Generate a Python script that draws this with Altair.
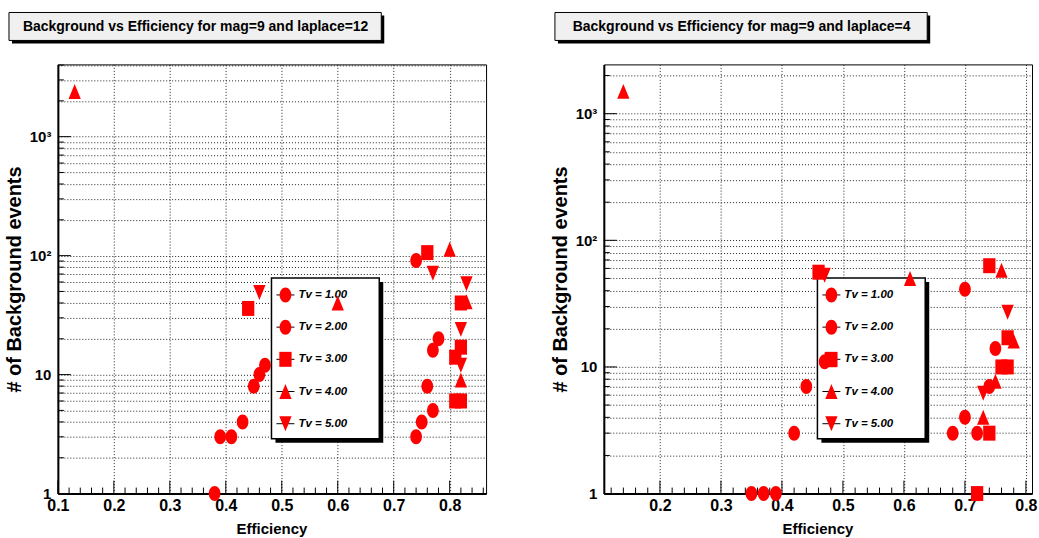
import altair as alt
import pandas as pd
import numpy as np

FONT = "Liberation Sans, Arial, sans-serif"
RED = "#ff0000"

tv_labels = ["Tv = 1.00", "Tv = 2.00", "Tv = 3.00", "Tv = 4.00", "Tv = 5.00"]

# ---- Panel A: mag=9, laplace=12 ----
a_tv1_eff = [0.38, 0.39, 0.41, 0.43, 0.45, 0.46, 0.47]
a_tv1_bkg = [1, 3, 3, 4, 8, 10, 12]
a_tv2_eff = [0.74, 0.74, 0.75, 0.76, 0.77, 0.77, 0.78]
a_tv2_bkg = [91, 3, 4, 8, 5, 16, 20]
a_tv3_eff = [0.44, 0.76, 0.82, 0.81, 0.82, 0.81, 0.82]
a_tv3_bkg = [36, 106, 40, 14, 17, 6, 6]
a_tv4_eff = [0.13, 0.60, 0.80, 0.83, 0.82]
a_tv4_bkg = [2400, 40, 113, 41, 9]
a_tv5_eff = [0.46, 0.77, 0.83, 0.82, 0.82]
a_tv5_bkg = [49, 71, 58, 24, 12]

# ---- Panel B: mag=9, laplace=4 ----
b_tv1_eff = [0.35, 0.37, 0.39, 0.42, 0.44, 0.47]
b_tv1_bkg = [1, 1, 1, 3, 7, 11]
b_tv2_eff = [0.68, 0.70, 0.70, 0.72, 0.74, 0.75]
b_tv2_bkg = [3, 4, 41, 3, 7, 14]
b_tv3_eff = [0.46, 0.48, 0.72, 0.74, 0.74, 0.76, 0.77, 0.77]
b_tv3_bkg = [56, 11.4, 1, 3, 63, 10, 10, 17]
b_tv4_eff = [0.14, 0.61, 0.76, 0.78, 0.75, 0.73]
b_tv4_bkg = [1500, 50, 58, 16, 7.7, 4]
b_tv5_eff = [0.47, 0.77, 0.73]
b_tv5_bkg = [53, 27, 6.2]

a_title = "Background vs Efficiency for mag=9 and laplace=12"
b_title = "Background vs Efficiency for mag=9 and laplace=4"

a_xdomain = [0.1, 0.865]
b_xdomain = [0.108, 0.81]
a_ydomain = [1, 4050]
b_ydomain = [1, 2450]

# marker shapes (ROOT markers, slightly taller than wide)
ELLIPSE = "M-0.78,0A0.78,1,0,1,1,0.78,0A0.78,1,0,1,1,-0.78,0Z"
SQUARE = "M-0.82,-1H0.82V1H-0.82Z"
TRI_UP = "M0,-1L0.82,1L-0.82,1Z"
TRI_DN = "M-0.82,-1L0.82,-1L0,1Z"
shape_scale = alt.Scale(domain=tv_labels, range=[ELLIPSE, ELLIPSE, SQUARE, TRI_UP, TRI_DN])

W, H = 429, 430


def make_df(effs, bkgs):
    rows = []
    for lab, e, b in zip(tv_labels, effs, bkgs):
        for x, y in zip(e, b):
            rows.append({"tv": lab, "eff": x, "bkg": y})
    return pd.DataFrame(rows)


def log_ticks(ymax):
    major, minor = [], []
    d = 1
    while d <= ymax:
        for m in range(1, 10):
            v = m * d
            if v <= ymax:
                (major if m == 1 else minor).append(v)
        d *= 10
    return major, minor


def panel(df, title, xdom, ydom, bound_x):
    xs = alt.Scale(domain=xdom, nice=False, zero=False)
    ys = alt.Scale(type="log", domain=ydom, nice=False)
    ymaj, ymin = log_ticks(ydom[1])
    xmaj = [round(v, 2) for v in np.arange(0.1, 0.81, 0.1) if v >= xdom[0] - 1e-9]
    xmin = [round(v, 2) for v in np.arange(0.1, xdom[1], 0.02)
            if v >= xdom[0] and abs(round(v * 10) - v * 10) > 1e-6]

    xaxis = alt.Axis(values=xmaj, format=".1f", grid=True, ticks=False,
                     title="Efficiency", titleX=214, titleY=40, titleBaseline="alphabetic",
                     titleAnchor="middle", titleAlign="center")
    yaxis = alt.Axis(values=ymaj + ymin, grid=True, ticks=False,
                     labelExpr="datum.value == 1 ? '1' : datum.value == 10 ? '10' : datum.value == 100 ? '10\u00b2' : datum.value == 1000 ? '10\u00b3' : ''",
                     title="# of Background events", titleX=-43, titleY=215, titleAngle=270,
                     titleAlign="center", titleBaseline="middle", titleFontSize=20)

    X = lambda f: alt.X(f, type="quantitative", scale=xs, axis=xaxis)
    Y = lambda f: alt.Y(f, type="quantitative", scale=ys, axis=yaxis)

    xt_major = alt.Chart(pd.DataFrame({"v": xmaj})).mark_rule(color="black", strokeWidth=1).encode(
        x=X("v"), y=alt.value(H), y2=alt.value(H - 13))
    xt_minor = alt.Chart(pd.DataFrame({"v": xmin})).mark_rule(color="black", strokeWidth=1).encode(
        x=X("v"), y=alt.value(H), y2=alt.value(H - 6))
    yt_major = alt.Chart(pd.DataFrame({"v": ymaj})).mark_rule(color="black", strokeWidth=1).encode(
        y=Y("v"), x=alt.value(0), x2=alt.value(13))
    yt_minor = alt.Chart(pd.DataFrame({"v": ymin})).mark_rule(color="black", strokeWidth=1).encode(
        y=Y("v"), x=alt.value(0), x2=alt.value(6))

    pts = alt.Chart(df).mark_point(filled=True, size=225, opacity=1, color=RED, strokeWidth=0).encode(
        x=X("eff"), y=Y("bkg"),
        shape=alt.Shape("tv:N", scale=shape_scale, legend=None))

    data_group = alt.layer(xt_major, xt_minor, yt_major, yt_minor, pts)

    one = pd.DataFrame({"a": [0]})
    # invisible rect fixing the outer bounds of the page
    bounds = alt.Chart(one).mark_rect(fill="white", opacity=0).encode(
        x=alt.value(bound_x[0]), x2=alt.value(bound_x[1]), y=alt.value(-63), y2=alt.value(H + 45))

    # legend box
    leg_df = pd.DataFrame({"tv": tv_labels})
    ly = alt.Y("tv:N", scale=alt.Scale(type="point", domain=tv_labels, range=[231, 360], padding=0), axis=None)
    shadow = alt.Chart(one).mark_rect(color="black").encode(
        x=alt.value(218), x2=alt.value(326), y=alt.value(218), y2=alt.value(379))
    box = alt.Chart(one).mark_rect(fill="white", stroke="black", strokeWidth=1.5).encode(
        x=alt.value(214), x2=alt.value(322), y=alt.value(214), y2=alt.value(375))
    lines = alt.Chart(leg_df).mark_rule(color="black", strokeWidth=1).encode(
        y=ly, x=alt.value(219), x2=alt.value(237))
    lmark = alt.Chart(leg_df).mark_point(filled=True, size=225, opacity=1, color=RED, strokeWidth=0).encode(
        y=ly, x=alt.value(228), shape=alt.Shape("tv:N", scale=shape_scale, legend=None))
    ltext = alt.Chart(leg_df).mark_text(align="left", baseline="middle", font=FONT, fontSize=11.5,
                                        fontWeight="bold", fontStyle="italic", color="black").encode(
        y=ly, x=alt.value(241), text="tv:N")
    legend_group = alt.layer(bounds, shadow, box, lines, lmark, ltext)

    # title box
    tshadow = alt.Chart(one).mark_rect(color="black").encode(
        x=alt.value(-46), x2=alt.value(327), y=alt.value(-49), y2=alt.value(-21))
    tbox = alt.Chart(one).mark_rect(fill="#f0f0f0", stroke="black", strokeWidth=1).encode(
        x=alt.value(-49), x2=alt.value(324), y=alt.value(-52), y2=alt.value(-24))
    ttext = alt.Chart(one).mark_text(text=title, align="center", baseline="middle", font=FONT,
                                     fontSize=14, fontWeight="bold", color="black").encode(
        x=alt.value(138), y=alt.value(-37))
    title_group = alt.layer(tshadow, tbox, ttext)

    return alt.layer(legend_group, data_group, title_group).resolve_scale(y="independent").properties(
        width=W, height=H)


left = panel(make_df([a_tv1_eff, a_tv2_eff, a_tv3_eff, a_tv4_eff, a_tv5_eff],
                     [a_tv1_bkg, a_tv2_bkg, a_tv3_bkg, a_tv4_bkg, a_tv5_bkg]),
             a_title, a_xdomain, a_ydomain, (-57, 0))
right = panel(make_df([b_tv1_eff, b_tv2_eff, b_tv3_eff, b_tv4_eff, b_tv5_eff],
                      [b_tv1_bkg, b_tv2_bkg, b_tv3_bkg, b_tv4_bkg, b_tv5_bkg]),
              b_title, b_xdomain, b_ydomain, (W, 435))

chart = alt.hconcat(left, right, spacing=118, bounds="flush").properties(
    padding=0,
    background="white",
).configure_view(
    stroke="black", strokeWidth=1
).configure_axis(
    domain=True, domainColor="black", domainWidth=2,
    gridColor="#222222", gridDash=[1, 2], gridWidth=1, gridOpacity=1,
    labelFont=FONT, labelFontWeight="bold", labelColor="black",
    titleFont=FONT, titleFontWeight="bold", titleColor="black", titleFontSize=15,
    labelOverlap=False, labelFlush=False, labelBound=False,
).configure_axisX(
    labelFontSize=16, labelPadding=4,
).configure_axisY(
    labelFontSize=15, labelPadding=7,
)

chart.save("out.html", embed_options={"renderer": "svg", "actions": False})
